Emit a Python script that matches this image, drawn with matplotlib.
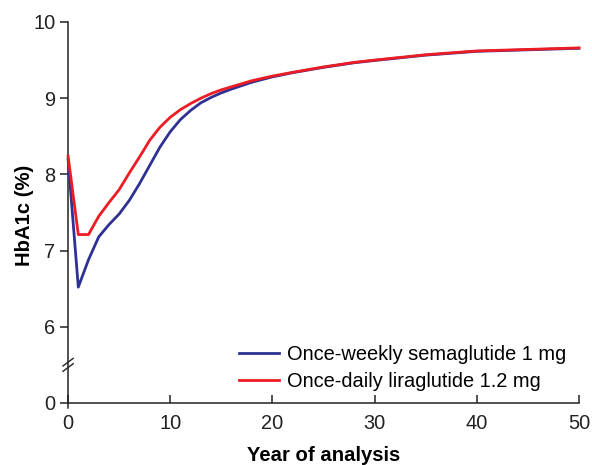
import matplotlib
matplotlib.use("Agg")
import matplotlib.pyplot as plt

plt.rcParams['font.family'] = ['Liberation Sans', 'DejaVu Sans']

years = [0, 1, 2, 3, 4, 5, 6, 7, 8, 9, 10, 11, 12, 13, 14, 15, 16, 18, 20, 22, 25, 28, 30, 35, 40, 45, 50]
sema = [8.20, 6.52, 6.88, 7.18, 7.34, 7.48, 7.66, 7.88, 8.12, 8.36, 8.56, 8.72, 8.84, 8.94, 9.01, 9.07, 9.12,
        9.21, 9.28, 9.335, 9.405, 9.465, 9.495, 9.565, 9.615, 9.635, 9.655]
lira = [8.24, 7.21, 7.21, 7.45, 7.63, 7.80, 8.02, 8.23, 8.45, 8.62, 8.75, 8.85, 8.93, 9.00, 9.06, 9.11, 9.15,
        9.23, 9.29, 9.34, 9.41, 9.47, 9.50, 9.57, 9.62, 9.64, 9.66]
xticks = [0, 10, 20, 30, 40, 50]
ytick_pos = [5, 6, 7, 8, 9, 10]
ytick_labels = ['0', '6', '7', '8', '9', '10']
labels = ['Once-weekly semaglutide 1 mg', 'Once-daily liraglutide 1.2 mg']

fig = plt.figure(figsize=(5.92, 4.65), dpi=100)
ax = fig.add_axes([0.115, 0.122, 0.863, 0.8307])

ax.plot(years, sema, color='#2E3192', lw=2.0, label=labels[0], clip_on=False, zorder=3)
ax.plot(years, lira, color='#ED1C24', lw=2.0, label=labels[1], clip_on=False, zorder=4)

ax.set_xlim(0, 50)
ax.set_ylim(4.93, 10)
ax.spines['top'].set_visible(False)
ax.spines['right'].set_visible(False)
ax.spines['bottom'].set_position(('data', 5))
ax.spines['left'].set_bounds(4.93, 10)
for s in ('left', 'bottom'):
    ax.spines[s].set_linewidth(1.1)
    ax.spines[s].set_color('#222222')

ax.set_xticks(xticks)
ax.set_yticks(ytick_pos)
ax.set_yticklabels(ytick_labels)
ax.tick_params(axis='x', direction='in', length=6, width=1.1, labelsize=14.4, pad=8, colors='#222222')
ax.tick_params(axis='y', direction='out', length=6, width=1.1, labelsize=14.4, pad=3, colors='#222222')
for t in ax.get_xticklabels() + ax.get_yticklabels():
    t.set_color('#222222')

ax.set_xlabel('Year of analysis', fontsize=14.6, fontweight='bold', labelpad=9)
ax.set_ylabel('HbA1c (%)', fontsize=14.6, fontweight='bold', labelpad=-0.5)

# axis break marks
for dy in (-0.035, 0.035):
    ax.plot([-0.5, 0.5], [5.45 + dy, 5.55 + dy], color='#222222', lw=1.0, clip_on=False, zorder=5)

leg = ax.legend(loc='lower right', bbox_to_anchor=(0.99, 0.025), frameon=False, fontsize=14.4,
                handlelength=2.0, handletextpad=0.4, labelspacing=0.4, borderaxespad=0)

fig.savefig('out.png', dpi=100)
